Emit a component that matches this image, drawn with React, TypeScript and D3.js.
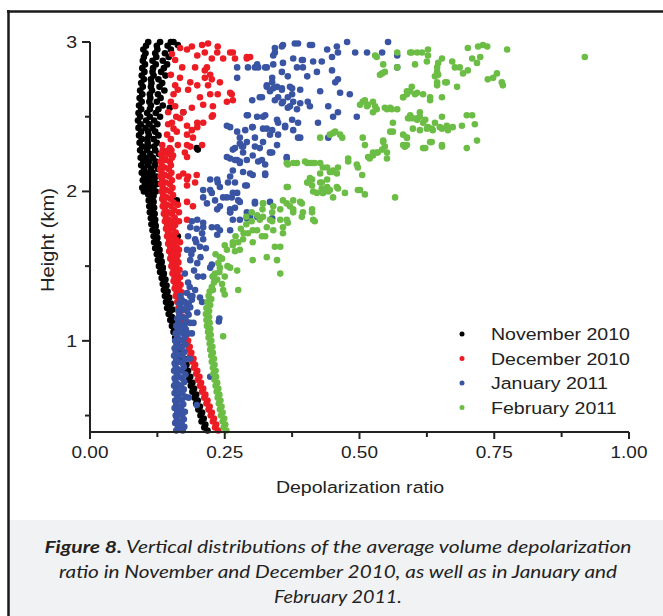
import React from "react";
import * as d3 from "d3";

type P = [number, number]; // [depolarization ratio, height km]

const november: P[] = [
  [0.218,0.40],[0.212,0.42],[0.214,0.44],[0.207,0.46],[0.211,0.48],[0.205,0.50],[0.208,0.52],[0.201,0.54],[0.204,0.56],[0.197,0.58],[0.200,0.60],[0.194,0.62],[0.197,0.64],[0.190,0.66],[0.193,0.68],[0.187,0.70],[0.190,0.72],[0.183,0.74],[0.186,0.76],[0.179,0.78],[0.182,0.80],[0.176,0.82],[0.179,0.84],[0.172,0.86],[0.175,0.88],[0.168,0.90],[0.171,0.92],[0.164,0.94],[0.167,0.96],[0.161,0.98],[0.163,1.00],[0.158,1.02],[0.161,1.04],[0.155,1.06],[0.158,1.08],[0.152,1.10],[0.155,1.12],[0.149,1.14],[0.152,1.16],[0.146,1.18],[0.149,1.20],[0.143,1.22],[0.147,1.24],[0.141,1.26],[0.144,1.28],[0.139,1.30],[0.142,1.32],[0.137,1.34],[0.140,1.36],[0.135,1.38],[0.138,1.40],[0.133,1.42],[0.136,1.44],[0.130,1.46],[0.134,1.48],[0.128,1.50],[0.132,1.52],[0.126,1.54],[0.130,1.56],[0.124,1.58],[0.128,1.60],[0.121,1.62],[0.126,1.64],[0.119,1.66],[0.124,1.68],[0.118,1.70],[0.123,1.72],[0.116,1.74],[0.121,1.76],[0.114,1.78],[0.120,1.80],[0.113,1.82],[0.118,1.84],[0.111,1.86],[0.117,1.88],[0.110,1.90],[0.116,1.92],[0.109,1.94],[0.115,1.96],[0.108,1.98],[0.114,2.00],
  [0.153,1.21],[0.150,1.25],[0.147,1.29],[0.144,1.33],[0.142,1.37],[0.140,1.41],[0.137,1.45],[0.135,1.49],[0.133,1.53],[0.131,1.57],[0.129,1.61],[0.127,1.65],[0.125,1.69],[0.124,1.73],[0.122,1.77],[0.121,1.81],[0.120,1.85],[0.119,1.89],[0.118,1.93],[0.118,1.97],
  [0.100,2.00],[0.122,2.00],[0.097,2.025],[0.118,2.025],[0.102,2.05],[0.125,2.05],[0.098,2.075],[0.119,2.075],[0.101,2.10],[0.123,2.10],[0.096,2.125],[0.116,2.125],[0.100,2.15],[0.126,2.15],[0.095,2.175],[0.120,2.175],[0.099,2.20],[0.122,2.20],[0.094,2.225],[0.117,2.225],[0.098,2.25],[0.128,2.25],[0.093,2.275],[0.121,2.275],[0.097,2.30],[0.119,2.30],[0.092,2.325],[0.124,2.325],[0.096,2.35],[0.118,2.35],[0.091,2.375],[0.127,2.375],[0.095,2.40],[0.121,2.40],[0.090,2.425],[0.116,2.425],[0.094,2.45],[0.125,2.45],[0.089,2.475],[0.119,2.475],[0.093,2.50],[0.130,2.50],[0.090,2.525],[0.122,2.525],[0.095,2.55],[0.127,2.55],[0.091,2.575],[0.135,2.575],[0.096,2.60],[0.124,2.60],[0.092,2.625],[0.131,2.625],[0.097,2.65],[0.126,2.65],[0.093,2.675],[0.138,2.675],[0.098,2.70],[0.129,2.70],[0.095,2.725],[0.134,2.725],[0.100,2.75],[0.127,2.75],[0.096,2.775],[0.140,2.775],[0.101,2.80],[0.132,2.80],[0.097,2.825],[0.137,2.825],[0.102,2.85],[0.143,2.85],[0.098,2.875],[0.135,2.875],[0.100,2.90],[0.146,2.90],[0.103,2.925],[0.139,2.925],[0.099,2.95],[0.150,2.95],[0.104,2.975],[0.144,2.975],[0.108,3.00],[0.130,3.00],[0.150,3.00],
  [0.111,2.00],[0.108,2.025],[0.113,2.05],[0.109,2.075],[0.112,2.10],[0.106,2.125],[0.113,2.15],[0.107,2.175],[0.110,2.20],[0.105,2.225],[0.112,2.25],[0.106,2.275],[0.108,2.30],[0.107,2.325],[0.106,2.35],[0.109,2.375],[0.108,2.40],[0.103,2.425],[0.110,2.45],[0.104,2.475],[0.111,2.50],[0.106,2.525],[0.111,2.55],[0.113,2.575],[0.110,2.60],[0.112,2.625],[0.111,2.65],[0.115,2.675],[0.113,2.70],[0.114,2.725],[0.113,2.75],[0.118,2.775],[0.116,2.80],[0.117,2.825],[0.122,2.85],[0.116,2.875],[0.123,2.90],[0.121,2.925],[0.125,2.95],[0.124,2.975],
  [0.198,2.29],[0.161,1.94],[0.163,1.70],[0.161,1.44],[0.173,2.53],[0.148,2.56],[0.163,2.98],[0.155,3.00],[0.200,2.28],[0.160,1.46]
];

const december: P[] = [
  [0.238,0.40],[0.232,0.42],[0.234,0.44],[0.228,0.46],[0.230,0.48],[0.224,0.50],[0.226,0.52],[0.220,0.54],[0.222,0.56],[0.216,0.58],[0.218,0.60],[0.212,0.62],[0.214,0.64],[0.208,0.66],[0.210,0.68],[0.204,0.70],[0.206,0.72],[0.200,0.74],[0.203,0.76],[0.197,0.78],[0.199,0.80],[0.193,0.82],[0.195,0.84],[0.190,0.86],[0.192,0.88],[0.186,0.90],[0.188,0.92],[0.183,0.94],[0.185,0.96],[0.180,0.98],[0.182,1.00],[0.177,1.02],[0.179,1.04],[0.174,1.06],[0.176,1.08],[0.171,1.10],[0.174,1.12],[0.169,1.14],[0.172,1.16],[0.166,1.18],[0.169,1.20],[0.164,1.22],[0.167,1.24],[0.162,1.26],[0.165,1.28],
  [0.159,1.30],[0.166,1.30],[0.161,1.325],[0.170,1.325],[0.157,1.35],[0.165,1.35],[0.159,1.375],[0.168,1.375],[0.155,1.40],[0.163,1.40],[0.157,1.425],[0.167,1.425],[0.153,1.45],[0.162,1.45],[0.155,1.475],[0.166,1.475],[0.151,1.50],[0.160,1.50],[0.153,1.525],[0.164,1.525],[0.149,1.55],[0.158,1.55],[0.151,1.575],[0.163,1.575],[0.147,1.60],[0.157,1.60],[0.149,1.625],[0.161,1.625],[0.145,1.65],[0.156,1.65],[0.147,1.675],[0.160,1.675],[0.143,1.70],[0.155,1.70],[0.145,1.725],[0.159,1.725],[0.141,1.75],[0.154,1.75],[0.143,1.775],[0.158,1.775],[0.139,1.80],[0.153,1.80],[0.141,1.825],[0.157,1.825],[0.137,1.85],[0.152,1.85],[0.139,1.875],[0.156,1.875],[0.135,1.90],[0.151,1.90],[0.137,1.925],[0.155,1.925],[0.134,1.95],[0.150,1.95],[0.136,1.975],[0.154,1.975],[0.133,2.00],[0.149,2.00],[0.135,2.025],[0.153,2.025],[0.132,2.05],[0.148,2.05],[0.134,2.075],[0.152,2.075],[0.131,2.10],[0.147,2.10],[0.133,2.125],[0.151,2.125],[0.130,2.15],[0.146,2.15],[0.133,2.175],[0.150,2.175],[0.131,2.20],[0.148,2.20],[0.134,2.225],[0.152,2.225],[0.132,2.25],[0.147,2.25],[0.135,2.275],[0.151,2.275],
  [0.163,1.31],[0.161,1.36],[0.159,1.41],[0.158,1.46],[0.156,1.51],[0.154,1.56],[0.152,1.61],[0.151,1.66],[0.149,1.71],[0.148,1.76],[0.146,1.81],[0.145,1.86],[0.143,1.91],[0.142,1.96],[0.141,2.01],[0.140,2.06],[0.139,2.11],[0.138,2.16],[0.140,2.21],[0.141,2.26],
  [0.165,2.10],[0.182,2.10],[0.195,2.06],[0.180,2.04],[0.165,1.86],[0.165,1.80],[0.167,1.66],[0.165,1.61],[0.161,1.54],[0.154,1.79],[0.198,2.11],[0.180,1.93],[0.191,1.90],[0.163,1.91],[0.180,1.81],[0.173,2.12],[0.180,2.08],[0.180,2.23],
  [0.167,2.96],[0.180,2.95],[0.189,2.97],[0.208,2.98],[0.219,2.99],[0.237,2.97],[0.199,2.91],[0.213,2.93],[0.226,2.89],[0.247,2.89],[0.265,2.93],[0.269,2.89],[0.291,2.89],[0.171,2.83],[0.195,2.83],[0.217,2.83],[0.223,2.78],[0.167,2.76],[0.158,2.71],[0.186,2.73],[0.199,2.71],[0.213,2.76],[0.219,2.71],[0.163,2.68],[0.182,2.68],[0.241,2.73],[0.204,2.63],[0.223,2.65],[0.237,2.65],[0.254,2.60],[0.263,2.65],[0.158,2.57],[0.145,2.53],[0.173,2.53],[0.189,2.56],[0.210,2.58],[0.228,2.57],[0.152,2.46],[0.167,2.49],[0.180,2.44],[0.199,2.46],[0.228,2.51],[0.143,2.38],[0.161,2.40],[0.180,2.38],[0.191,2.36],[0.134,2.31],[0.148,2.29],[0.163,2.31],[0.180,2.31],[0.139,2.22],[0.154,2.24],[0.176,2.26],
  [0.260,2.93],[0.236,2.93],[0.213,2.81],[0.226,2.75],[0.260,2.66],[0.265,2.61],[0.226,2.50],[0.210,2.46],[0.199,2.43],[0.208,2.31],[0.186,2.30],[0.189,2.41],[0.291,2.90],[0.297,2.90],
  [0.150,2.60],[0.155,2.65],[0.150,2.35],[0.143,2.27],[0.155,2.42],[0.160,2.50],[0.150,2.78],[0.158,2.88],[0.152,2.92],[0.145,2.45]
];

const january: P[] = [
  [0.160,0.400],[0.172,0.400],[0.163,0.425],[0.175,0.425],[0.158,0.450],[0.170,0.450],[0.161,0.475],[0.174,0.475],[0.159,0.500],[0.171,0.500],[0.162,0.525],[0.176,0.525],[0.157,0.550],[0.169,0.550],[0.160,0.575],[0.173,0.575],[0.158,0.600],[0.170,0.600],[0.162,0.625],[0.177,0.625],[0.157,0.650],[0.171,0.650],[0.160,0.675],[0.174,0.675],[0.156,0.700],[0.169,0.700],[0.159,0.725],[0.175,0.725],[0.157,0.750],[0.171,0.750],[0.161,0.775],[0.177,0.775],[0.156,0.800],[0.170,0.800],[0.159,0.825],[0.174,0.825],[0.157,0.850],[0.172,0.850],[0.160,0.875],[0.176,0.875],[0.156,0.900],[0.171,0.900],[0.159,0.925],[0.175,0.925],[0.157,0.950],[0.170,0.950],[0.161,0.975],[0.177,0.975],[0.158,1.000],[0.172,1.000],[0.162,1.025],[0.176,1.025],[0.159,1.050],[0.173,1.050],[0.163,1.075],[0.178,1.075],[0.160,1.100],[0.175,1.100],[0.164,1.125],[0.180,1.125],[0.162,1.150],[0.177,1.150],[0.166,1.175],[0.183,1.175],[0.164,1.200],[0.180,1.200],[0.168,1.225],[0.186,1.225],[0.166,1.250],[0.183,1.250],[0.170,1.275],[0.189,1.275],[0.168,1.300],[0.186,1.300],
  [0.166,0.41],[0.165,0.46],[0.167,0.51],[0.164,0.56],[0.166,0.61],[0.164,0.66],[0.163,0.71],[0.165,0.76],[0.163,0.81],[0.165,0.86],[0.164,0.91],[0.166,0.96],[0.165,1.01],[0.168,1.06],[0.168,1.11],[0.171,1.16],[0.173,1.21],[0.176,1.26],
  [0.183,0.62],[0.185,0.88],[0.182,1.05],[0.239,1.13],[0.223,0.76],[0.198,0.57],[0.192,1.12],[0.240,1.15],[0.226,1.51],[0.208,1.26],[0.200,1.43],
  [0.254,2.23],[0.269,2.21],[0.284,2.26],[0.265,2.14],[0.284,2.13],[0.302,2.11],[0.325,2.11],[0.334,2.26],[0.312,2.20],[0.365,2.22],[0.223,2.08],[0.237,2.06],[0.256,2.06],[0.291,2.04],[0.210,2.01],[0.226,1.99],[0.247,1.96],[0.265,1.99],[0.217,1.92],[0.241,1.90],[0.260,1.88],[0.275,1.94],[0.291,1.82],[0.306,1.92],[0.338,1.82],[0.189,1.80],[0.210,1.79],[0.226,1.76],[0.241,1.74],[0.260,1.86],[0.182,1.70],[0.195,1.68],[0.208,1.72],[0.236,1.71],[0.180,1.61],[0.191,1.61],[0.204,1.63],[0.186,1.54],[0.199,1.52],[0.223,1.49],[0.210,1.43],[0.176,1.45],[0.182,1.39],[0.195,1.34],[0.204,1.29],[0.228,1.43],[0.167,1.25],[0.180,1.23],[0.199,1.19],[0.167,1.16],[0.186,1.12],[0.167,1.07],[0.189,1.05],
  [0.193,1.47],[0.188,1.58],[0.197,1.66],[0.205,1.56],[0.185,1.36],[0.190,1.30],[0.198,1.75],[0.210,1.68],[0.180,1.32],[0.215,1.62],
  [0.273,2.83],[0.260,2.43],[0.278,2.36],[0.265,2.28],[0.284,2.30],[0.273,2.21],[0.291,2.21],[0.260,2.10],[0.236,2.08],[0.223,2.01],[0.241,2.03],[0.210,1.96],[0.232,1.94],[0.254,1.96],[0.273,1.99],[0.236,1.88],[0.260,1.86],[0.278,1.81],[0.199,1.81],[0.186,1.76],[0.210,1.76],[0.236,1.76],[0.260,1.74],
  [0.343,2.96],[0.328,2.83],[0.293,2.83],[0.312,2.83],[0.273,2.76],[0.328,2.71],[0.340,2.69],[0.301,2.61],[0.315,2.63],[0.293,2.51],[0.310,2.50],[0.325,2.51],[0.254,2.44],[0.273,2.40],[0.328,2.42],[0.291,2.33],[0.282,2.30],[0.269,2.29],[0.315,2.29],[0.260,2.22],[0.278,2.20],[0.302,2.24],
  [0.358,2.98],[0.343,2.93],[0.386,2.99],[0.408,2.98],[0.358,2.86],[0.377,2.89],[0.393,2.88],[0.306,2.83],[0.325,2.83],[0.338,2.73],[0.347,2.70],[0.334,2.67],[0.356,2.68],[0.371,2.70],[0.375,2.65],[0.343,2.61],[0.358,2.60],[0.367,2.56],[0.390,2.59],[0.404,2.60],[0.291,2.51],[0.321,2.50],[0.288,2.41],[0.301,2.43],[0.321,2.42],[0.338,2.41],[0.349,2.46],[0.362,2.43],[0.375,2.48],[0.386,2.36],[0.278,2.32],[0.306,2.30],[0.319,2.21],[0.334,2.26],[0.365,2.23],[0.278,2.19],[0.297,2.12],[0.325,2.12],[0.269,2.06],[0.288,2.04],[0.263,1.96],[0.278,1.93],[0.306,1.93],[0.269,1.89],[0.291,1.86],[0.310,1.83],[0.334,1.93],[0.265,1.81],[0.297,1.83],
  [0.356,2.97],[0.380,2.99],[0.412,2.98],[0.440,2.95],[0.458,2.97],[0.477,3.00],[0.492,2.93],[0.514,2.93],[0.542,2.93],[0.553,3.00],[0.570,2.91],[0.570,2.83],[0.340,2.91],[0.395,2.88],[0.414,2.87],[0.430,2.87],[0.449,2.90],[0.460,2.93],[0.310,2.85],[0.340,2.85],[0.356,2.80],[0.384,2.83],[0.395,2.83],[0.421,2.80],[0.449,2.81],[0.338,2.76],[0.367,2.77],[0.403,2.77],[0.455,2.73],[0.460,2.75],[0.328,2.70],[0.356,2.69],[0.375,2.69],[0.390,2.68],[0.427,2.67],[0.464,2.66],[0.482,2.65],[0.319,2.63],[0.349,2.63],[0.367,2.63],[0.377,2.60],[0.356,2.59],[0.371,2.57],[0.384,2.55],[0.408,2.57],[0.442,2.57],[0.460,2.53],[0.451,2.50],[0.495,2.50],[0.347,2.48],[0.362,2.44],[0.386,2.46],[0.423,2.46],[0.302,2.43],[0.334,2.38],[0.349,2.38],[0.377,2.41],[0.390,2.36],[0.306,2.36],[0.321,2.33],[0.347,2.31],[0.442,2.36],[0.338,2.26],[0.325,2.18]
];

const february: P[] = [
  [0.253,0.40],[0.248,0.42],[0.251,0.44],[0.246,0.46],[0.249,0.48],[0.243,0.50],[0.246,0.52],[0.241,0.54],[0.244,0.56],[0.239,0.58],[0.242,0.60],[0.237,0.62],[0.240,0.64],[0.235,0.66],[0.238,0.68],[0.233,0.70],[0.236,0.72],[0.231,0.74],[0.234,0.76],[0.229,0.78],[0.233,0.80],[0.228,0.82],[0.231,0.84],[0.226,0.86],[0.230,0.88],[0.225,0.90],[0.228,0.92],[0.223,0.94],[0.227,0.96],[0.222,0.98],[0.225,1.00],[0.220,1.02],[0.224,1.04],[0.219,1.06],[0.223,1.08],[0.217,1.10],[0.222,1.12],[0.216,1.14],[0.221,1.16],[0.215,1.18],[0.221,1.20],[0.216,1.22],[0.223,1.24],[0.218,1.26],[0.225,1.28],[0.220,1.30],
  [0.241,1.56],[0.254,1.61],[0.269,1.60],[0.260,1.49],[0.241,1.49],[0.236,1.41],[0.250,1.43],[0.273,1.47],[0.228,1.34],[0.247,1.34],[0.275,1.34],[0.250,1.31],
  [0.226,1.36],[0.230,1.39],[0.222,1.33],[0.232,1.45],[0.238,1.52],[0.245,1.55],[0.240,1.46],[0.228,1.43],[0.233,1.58],[0.250,1.64],[0.245,1.38],
  [0.247,1.03],[0.265,1.64],[0.255,1.50],
  [0.265,1.66],[0.284,1.68],[0.278,1.61],[0.302,1.66],[0.293,1.72],[0.310,1.74],[0.328,1.76],[0.315,1.81],[0.338,1.80],[0.325,1.70],[0.343,1.63],[0.353,1.63],[0.328,1.56],[0.347,1.54],[0.353,1.45],[0.302,1.54],[0.321,1.83],[0.321,1.92],[0.340,1.90],[0.353,1.88],[0.365,1.92],[0.377,1.86],[0.393,1.83],[0.414,1.81],[0.365,1.81],[0.358,1.76],[0.377,1.88],[0.393,1.92],[0.412,1.88],[0.365,2.03],[0.358,1.94],[0.377,1.94],[0.403,2.06],[0.412,2.08],[0.427,2.06],[0.440,2.03],[0.451,1.96],[0.421,1.99],[0.432,1.99],[0.408,2.19],[0.427,2.19],[0.451,2.14],[0.365,2.19],[0.377,2.19],[0.440,2.08],
  [0.270,1.70],[0.280,1.75],[0.290,1.78],[0.300,1.80],[0.285,1.72],[0.275,1.66],[0.310,1.84],[0.300,1.86],[0.320,1.88],[0.290,1.83],
  [0.427,2.36],[0.451,2.39],[0.468,2.36],[0.367,2.18],[0.403,2.19],[0.417,2.19],[0.432,2.16],[0.445,2.13],[0.458,2.12],[0.479,2.22],[0.497,2.16],[0.505,2.11],[0.408,2.09],[0.412,2.04],[0.430,2.06],[0.445,2.01],[0.458,2.03],[0.473,1.99],[0.501,2.01],[0.510,1.98],[0.566,1.96],[0.367,2.03],[0.414,2.00],[0.432,1.99],[0.321,1.92],[0.371,1.90],[0.390,1.93],[0.395,1.86],[0.412,1.86],[0.417,1.80],[0.338,1.86],[0.353,1.81],[0.367,1.79],[0.334,1.81],[0.302,1.74],[0.319,1.70],[0.340,1.74],[0.358,1.72],
  [0.506,2.60],[0.514,2.57],[0.532,2.55],[0.551,2.55],[0.557,2.56],[0.570,2.55],[0.525,2.60],[0.594,2.49],[0.607,2.48],[0.618,2.46],[0.612,2.50],[0.581,2.63],[0.594,2.67],[0.607,2.66],[0.618,2.65],[0.597,2.70],[0.631,2.61],[0.627,2.43],[0.529,2.91],[0.542,2.79],[0.547,2.80],[0.570,2.93],[0.597,2.93],[0.607,2.93],[0.616,2.93],[0.603,2.85],[0.516,2.23],[0.525,2.26],[0.532,2.26],[0.542,2.28],[0.547,2.30],[0.544,2.34],[0.551,2.22],[0.506,2.36],[0.510,2.31],[0.581,2.31],[0.584,2.30],[0.622,2.29],[0.562,2.40],[0.562,2.46],[0.588,2.36],[0.497,2.01],
  [0.594,2.93],[0.627,2.95],[0.627,2.91],[0.625,2.87],[0.653,2.89],[0.646,2.86],[0.644,2.80],[0.640,2.77],[0.644,2.71],[0.659,2.73],[0.672,2.87],[0.677,2.83],[0.686,2.83],[0.692,2.79],[0.701,2.81],[0.701,2.96],[0.709,2.89],[0.718,2.86],[0.720,2.97],[0.729,2.98],[0.737,2.97],[0.724,2.90],[0.755,2.79],[0.738,2.75],[0.748,2.76],[0.764,2.73],[0.766,2.71],[0.774,2.95],[0.918,2.90],[0.588,2.67],[0.603,2.65],[0.631,2.63],[0.653,2.63],[0.681,2.70],[0.590,2.49],[0.599,2.49],[0.612,2.53],[0.622,2.48],[0.640,2.46],[0.653,2.50],[0.612,2.41],[0.625,2.42],[0.636,2.41],[0.649,2.43],[0.662,2.44],[0.664,2.41],[0.673,2.43],[0.690,2.44],[0.699,2.51],[0.709,2.51],[0.714,2.45],[0.588,2.36],[0.584,2.30],[0.631,2.33],[0.653,2.30],[0.699,2.29],[0.718,2.34],
  [0.532,2.90],[0.544,2.85],[0.538,2.78],[0.570,2.83],[0.644,2.83],[0.646,2.78],[0.644,2.73],[0.662,2.73],[0.510,2.61],[0.501,2.58],[0.516,2.58],[0.529,2.57],[0.525,2.53],[0.547,2.56],[0.560,2.55],[0.588,2.65],[0.581,2.63],[0.594,2.51],[0.607,2.49],[0.557,2.40],[0.599,2.42],[0.634,2.42],[0.653,2.42],[0.581,2.38],[0.588,2.31],[0.618,2.29],[0.634,2.33],[0.653,2.31],[0.544,2.33],[0.534,2.26],[0.525,2.24],[0.519,2.22],[0.551,2.26],[0.445,2.38],[0.455,2.40],[0.464,2.38],[0.479,2.20],[0.495,2.18],[0.460,2.16],[0.449,2.13],[0.440,2.16],[0.427,2.12],[0.404,2.06],[0.430,2.02],[0.442,2.00],[0.460,2.02],[0.384,2.19],[0.399,2.20],[0.412,2.19]
];

const seriesNames = ["November 2010", "December 2010", "January 2011", "February 2011"];
const seriesColors = ["#000000", "#ed1c24", "#3a54a4", "#6cbd45"];
const xTicks = [0, 0.25, 0.5, 0.75, 1];
const xMinorTicks = [0.125, 0.375, 0.625, 0.875];
const yTicks = [1, 2, 3];
const yMinorTicks = [0.5, 1.5, 2.5];
const captionLines = [
  "Vertical distributions of the average volume depolarization",
  "ratio in November and December 2010, as well as in January and",
  "February 2011.",
];

const allSeries = [november, december, january, february];

const STRETCH = 1.15;

function SText(props: { x: number; y: number; anchor?: string; size: number; rotate?: number; children: React.ReactNode }) {
  const { x, y, anchor = "start", size, rotate = 0, children } = props;
  return (
    <text
      transform={`translate(${x},${y}) rotate(${rotate}) scale(${STRETCH},1)`}
      textAnchor={anchor}
      fontFamily="'Liberation Sans', Arial, sans-serif"
      fontSize={size}
      fill="#222"
    >
      {children}
    </text>
  );
}

export default function App() {
  const W = 663, H = 616;
  const x = d3.scaleLinear().domain([0, 1]).range([90, 629]);
  const y = d3.scaleLinear().domain([0.39, 3]).range([432, 42]);
  const axisColor = "#222";
  const capFont = "Lato, 'Open Sans', sans-serif";

  return (
    <svg width={W} height={H} style={{ position: "absolute", left: 0, top: 0, background: "#fff" }}>
      <rect x={0} y={0} width={W} height={H} fill="#fff" />
      <rect x={9} y={520} width={W} height={H - 520} fill="#f1f2f4" />
      <line x1={8.5} y1={10} x2={8.5} y2={H} stroke="#1a1a1a" strokeWidth={2.5} />
      <line x1={7} y1={11.5} x2={W} y2={11.5} stroke="#1a1a1a" strokeWidth={2.5} />

      {allSeries.map((s, si) => (
        <g key={si} fill={seriesColors[si]}>
          {s.map((p, i) => (
            <circle key={i} cx={x(p[0])} cy={y(p[1])} r={3.3} />
          ))}
        </g>
      ))}

      <line x1={x(0)} y1={y(0.39)} x2={x(1)} y2={y(0.39)} stroke={axisColor} strokeWidth={2} />
      <line x1={x(0)} y1={y(0.39) + 1} x2={x(0)} y2={y(3)} stroke={axisColor} strokeWidth={2} />
      {xTicks.map((t) => (
        <g key={"xt" + t}>
          <line x1={x(t)} x2={x(t)} y1={y(0.39)} y2={y(0.39) + 7} stroke={axisColor} strokeWidth={2} />
          <SText x={x(t)} y={458} anchor="middle" size={16.5}>{d3.format(".2f")(t)}</SText>
        </g>
      ))}
      {xMinorTicks.map((t) => (
        <line key={"xm" + t} x1={x(t)} x2={x(t)} y1={y(0.39)} y2={y(0.39) + 5} stroke={axisColor} strokeWidth={2} />
      ))}
      {yTicks.map((t) => (
        <g key={"yt" + t}>
          <line x1={x(0) - 8} x2={x(0)} y1={y(t)} y2={y(t)} stroke={axisColor} strokeWidth={2} />
          <SText x={77} y={y(t) + 6} anchor="end" size={17}>{t}</SText>
        </g>
      ))}
      {yMinorTicks.filter((t) => t >= 0.39).map((t) => (
        <line key={"ym" + t} x1={x(0) - 5} x2={x(0)} y1={y(t)} y2={y(t)} stroke={axisColor} strokeWidth={2} />
      ))}
      <SText x={360} y={493} anchor="middle" size={17}>Depolarization ratio</SText>
      <SText x={54} y={240} anchor="middle" size={17.5} rotate={-90}>Height (km)</SText>

      {seriesNames.map((n, i) => (
        <g key={n}>
          <circle cx={462} cy={334 + i * 24.5} r={2.5} fill={seriesColors[i]} />
          <SText x={491} y={334 + i * 24.5 + 6} size={17}>{n}</SText>
        </g>
      ))}

      <text x={338} y={553} textAnchor="middle" fontFamily={capFont} fontStyle="italic" fontSize={17.5} fill="#222" textLength={587} lengthAdjust="spacingAndGlyphs">
        <tspan fontWeight="bold">Figure 8.</tspan> {captionLines[0]}
      </text>
      <text x={338} y={578} textAnchor="middle" fontFamily={capFont} fontStyle="italic" fontSize={17.5} fill="#222" textLength={558} lengthAdjust="spacingAndGlyphs">
        {captionLines[1]}
      </text>
      <text x={338} y={603} textAnchor="middle" fontFamily={capFont} fontStyle="italic" fontSize={17.5} fill="#222" textLength={128} lengthAdjust="spacingAndGlyphs">
        {captionLines[2]}
      </text>
    </svg>
  );
}
